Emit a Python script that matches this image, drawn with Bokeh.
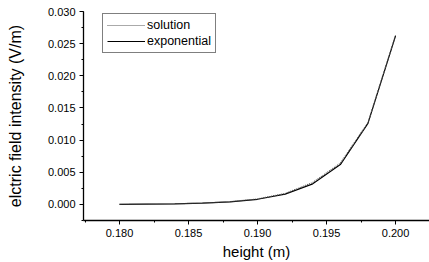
from bokeh.plotting import figure
from bokeh.models import Range1d, SingleIntervalTicker, NumeralTickFormatter, Legend, LegendItem
from bokeh.embed import file_html
from bokeh.resources import INLINE

heights = [0.180, 0.182, 0.184, 0.186, 0.188, 0.190, 0.192, 0.194, 0.196, 0.198, 0.200]
solution = [0.00002, 0.00005, 0.0001, 0.00021, 0.00042, 0.00085, 0.0017, 0.0034, 0.0064, 0.0127, 0.0263]
exponential = [0.00002, 0.00005, 0.0001, 0.0002, 0.0004, 0.0008, 0.0016, 0.0032, 0.0062, 0.0126, 0.0262]

FONT = "Liberation Sans"

p = figure(width=429, height=262, output_backend="svg", toolbar_location=None,
           x_range=Range1d(0.17739, 0.20246), y_range=Range1d(-0.0025, 0.030),
           min_border_left=83, min_border_right=0, min_border_top=11, min_border_bottom=42,
           x_axis_label="height (m)", y_axis_label="elctric field intensity (V/m)")
p.outline_line_color = None
p.grid.visible = False
p.background_fill_color = "white"
p.border_fill_color = "white"

p.xaxis.ticker = SingleIntervalTicker(interval=0.005, num_minor_ticks=2)
p.yaxis.ticker = SingleIntervalTicker(interval=0.005, num_minor_ticks=2)
p.xaxis.formatter = NumeralTickFormatter(format="0.000")
p.yaxis.formatter = NumeralTickFormatter(format="0.000")

for ax in (p.xaxis[0], p.yaxis[0]):
    ax.axis_line_color = "black"
    ax.axis_line_width = 1.3
    ax.major_tick_in = 0
    ax.major_tick_out = 4
    ax.minor_tick_in = 0
    ax.minor_tick_out = 2
    ax.major_tick_line_color = "black"
    ax.minor_tick_line_color = "black"
    ax.major_label_text_font = FONT
    ax.major_label_text_font_size = "11px"
    ax.major_label_text_color = "black"
    ax.axis_label_text_font = FONT
    ax.axis_label_text_font_style = "normal"
    ax.axis_label_text_color = "black"
    ax.major_label_standoff = 4

p.xaxis.axis_label_text_font_size = "15px"
p.yaxis.axis_label_text_font_size = "16px"
p.xaxis.axis_label_standoff = 3
p.yaxis.axis_label_standoff = 21

r_exp = p.line(heights, exponential, line_color="black", line_width=1.2)
r_sol = p.line(heights, solution, line_color="#555555", line_width=1.2, line_dash="1 1")

legend = Legend(items=[LegendItem(label="solution", renderers=[r_sol]),
                       LegendItem(label="exponential", renderers=[r_exp])],
                location=(19, 167))
legend.border_line_color = "black"
legend.border_line_width = 1
legend.background_fill_alpha = 1
legend.label_text_font = FONT
legend.label_text_font_size = "12.5px"
legend.label_text_color = "black"
legend.glyph_width = 38
legend.glyph_height = 14
legend.label_height = 14
legend.spacing = 2
legend.padding = 4
legend.margin = 0
legend.label_standoff = 2
p.add_layout(legend, "center")

open("out.html", "w").write(file_html(p, INLINE))
